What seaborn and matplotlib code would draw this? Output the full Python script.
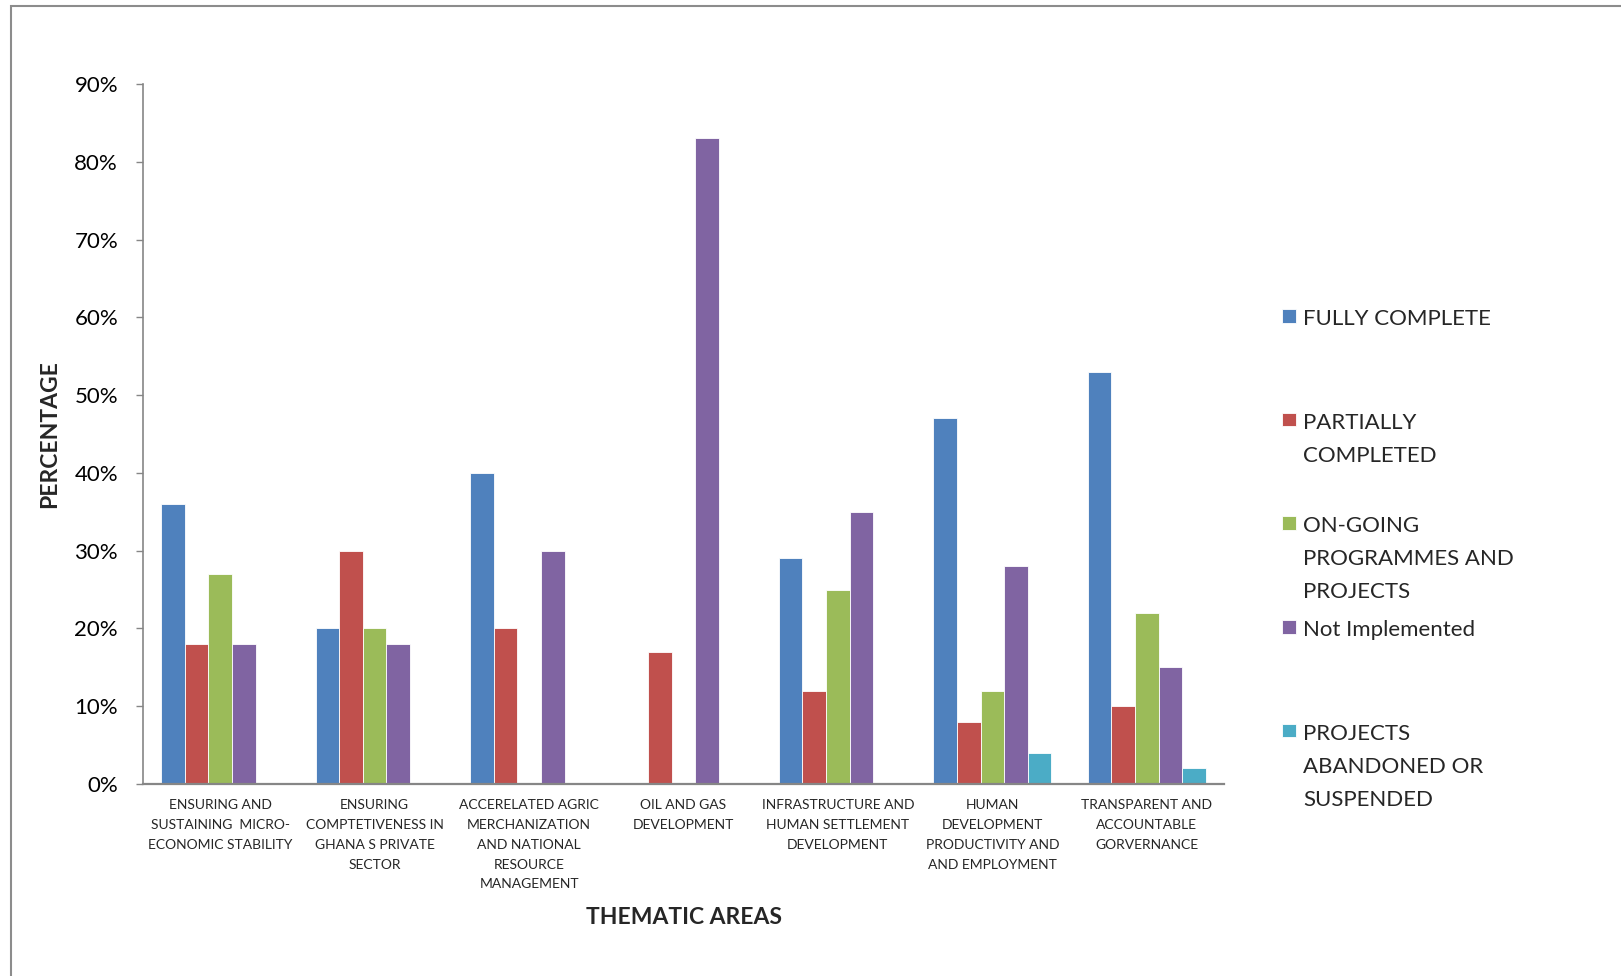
import numpy as np
import pandas as pd
import matplotlib.pyplot as plt
import seaborn as sns
from matplotlib.ticker import PercentFormatter, MultipleLocator
from matplotlib.patches import Rectangle

# thematic areas (x axis), line breaks as in the original chart
categories = [
    "ENSURING AND\nSUSTAINING  MICRO-\nECONOMIC STABILITY",
    "ENSURING\nCOMPTETIVENESS IN\nGHANA S PRIVATE\nSECTOR",
    "ACCERELATED AGRIC\nMERCHANIZATION\nAND NATIONAL\nRESOURCE\nMANAGEMENT",
    "OIL AND GAS\nDEVELOPMENT",
    "INFRASTRUCTURE AND\nHUMAN SETTLEMENT\nDEVELOPMENT",
    "HUMAN\nDEVELOPMENT\nPRODUCTIVITY AND\nAND EMPLOYMENT",
    "TRANSPARENT AND\nACCOUNTABLE\nGORVERNANCE",
]

series_names = [
    "FULLY COMPLETE",
    "PARTIALLY COMPLETED",
    "ON-GOING PROGRAMMES AND PROJECTS",
    "Not Implemented",
    "PROJECTS ABANDONED OR SUSPENDED",
]
legend_labels = [
    "FULLY COMPLETE\n\n",
    "PARTIALLY\nCOMPLETED\n",
    "ON-GOING\nPROGRAMMES AND\nPROJECTS",
    "Not Implemented\n\n",
    "PROJECTS\nABANDONED OR\nSUSPENDED",
]

# percentages per thematic area
fully_complete = [36, 20, 40, 0, 29, 47, 53]
partially_completed = [18, 30, 20, 17, 12, 8, 10]
on_going = [27, 20, 0, 0, 25, 12, 22]
not_implemented = [18, 18, 30, 83, 35, 28, 15]
abandoned = [0, 0, 0, 0, 0, 4, 2]

colors = ["#4F81BD", "#C0504D", "#9BBB59", "#8064A2", "#4BACC6"]

FONT = ["Lato", "DejaVu Sans"]


def armar_datos():
    valores = [fully_complete, partially_completed, on_going, not_implemented, abandoned]
    filas = []
    for nombre, serie in zip(series_names, valores):
        for cat, v in zip(categories, serie):
            filas.append({"area": cat, "estado": nombre, "pct": v})
    return pd.DataFrame(filas)


def main():
    df = armar_datos()

    sns.set_style("white")
    plt.rcParams["font.family"] = FONT

    fig = plt.figure(figsize=(16.21, 9.76), dpi=100)
    ax = fig.add_axes([143 / 1621, 1 - 784 / 976, (1224 - 143) / 1621, 700 / 976])

    sns.barplot(data=df, x="area", y="pct", hue="estado", order=categories,
                hue_order=series_names, palette=colors, width=0.765, gap=0,
                edgecolor="white", linewidth=0.6, saturation=1, ax=ax)

    ax.set_ylim(0, 90)
    ax.set_xlim(-0.5, len(categories) - 0.5)
    ax.yaxis.set_major_locator(MultipleLocator(10))
    ax.yaxis.set_major_formatter(PercentFormatter(100, decimals=0))

    for s in ["top", "right"]:
        ax.spines[s].set_visible(False)
    for s in ["left", "bottom"]:
        ax.spines[s].set_color("#868686")
    ax.spines["left"].set_linewidth(1.2)
    ax.spines["bottom"].set_linewidth(1.6)

    ax.tick_params(axis="y", which="major", left=True, length=5, width=1,
                   color="#868686", pad=13, labelsize=16, labelcolor="black")
    ax.tick_params(axis="x", length=0, pad=11)
    for t in ax.get_xticklabels():
        t.set_fontsize(10)
        t.set_linespacing(1.78)
        t.set_ha("center")
        t.set_multialignment("center")

    ax.set_xlabel("THEMATIC AREAS", fontsize=16.5, fontweight="bold")
    ax.set_ylabel("PERCENTAGE", fontsize=16.5, fontweight="bold")
    ax.xaxis.set_label_coords(0.5, (784 - 907) / 700)
    ax.yaxis.set_label_coords((60 - 143) / 1081, 0.5)

    # leyenda a la derecha, una entrada cada ~104 px
    viejo = ax.get_legend()
    handles = viejo.legend_handles
    viejo.remove()
    leg = fig.legend(handles, legend_labels, loc="upper left",
                     bbox_to_anchor=(1282 / 1621, 1 - 309 / 976),
                     frameon=False, fontsize=16, borderpad=0, borderaxespad=0,
                     handlelength=0.65, handleheight=0.56, handletextpad=0.3,
                     labelspacing=0.8)
    for t in leg.get_texts():
        t.set_linespacing(1.81)
    for col in leg._legend_handle_box.get_children():
        for item in col.get_children():
            item.align = "top"

    # marco gris del grafico
    fig.add_artist(Rectangle((11 / 1621, -0.1), 1.2, 1.1 - 6 / 976,
                             transform=fig.transFigure, fill=False,
                             edgecolor="#8c8c8c", linewidth=1.5))

    fig.savefig("out.png", dpi=100)


if __name__ == "__main__":
    main()
